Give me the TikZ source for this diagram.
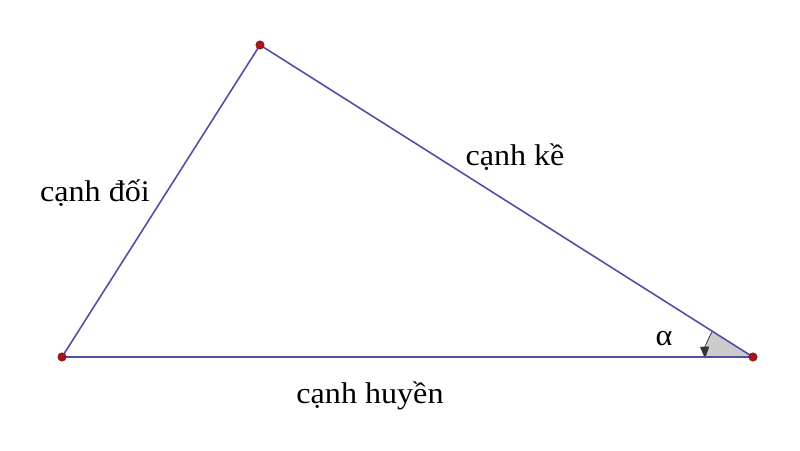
\documentclass[tikz,border=0pt]{standalone}
\usepackage{fontspec}
\setmainfont{Liberation Serif}
\usetikzlibrary{arrows.meta,calc}
\definecolor{edge}{RGB}{80,80,165}
\definecolor{pt}{RGB}{170,20,20}
\begin{document}
\begin{tikzpicture}[x=1pt,y=1pt,
  side/.style={draw=edge,line width=1.6pt},
  vert/.style={circle,fill=pt,draw=pt!60!black,inner sep=0pt,minimum size=8.5pt},
  lbl/.style={font=\fontsize{30}{34}\selectfont,inner sep=0pt,xscale=1.07}]
\useasboundingbox (0,0) rectangle (800,450);
\coordinate (A) at (260,405);
\coordinate (B) at (62,93);
\coordinate (C) at (753,93);
% angle sector
\fill[gray!40] (C) -- ++(180:48) arc[start angle=180,end angle=147.7,radius=48] -- cycle;
\draw[gray!40!black,line width=0.8pt,-{Triangle[length=12pt,width=9pt]}] ($(C)+(147.7:48)$) arc[start angle=147.7,end angle=182,radius=48];
\draw[side] (A) -- (B) (B) -- (C) (C) -- (A);
\node[vert] (a) at (A) {};
\node[vert] (b) at (B) {};
\node[vert] (c) at (C) {};
\node[lbl] (l1) at (95,257) {cạnh đối};
\node[lbl] (l2) at (515,293) {cạnh kề};
\node[lbl] (l3) at (370,54) {cạnh huyền};
\node[lbl] (l4) at (664,111) {α};
\end{tikzpicture}
\end{document}
